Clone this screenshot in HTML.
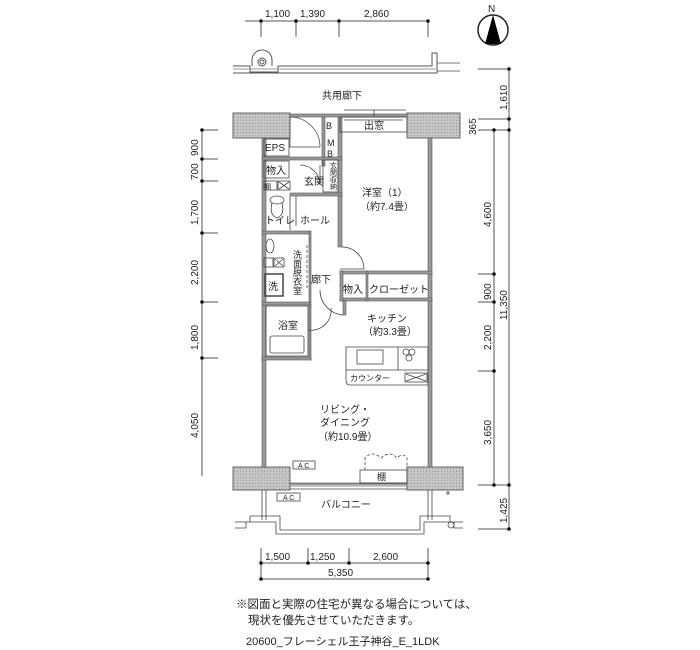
<!DOCTYPE html>
<html><head><meta charset="utf-8"><style>
body{margin:0;background:#fff;width:700px;height:650px;overflow:hidden}
svg{display:block}
text{font-family:"Liberation Sans","Noto Sans CJK JP",sans-serif;fill:#222}
</style></head><body>
<svg width="700" height="650" viewBox="0 0 700 650" xmlns="http://www.w3.org/2000/svg">
<defs>
<pattern id="h" width="3" height="3" patternUnits="userSpaceOnUse"><rect width="3" height="3" fill="#c4c4c4"/><rect width="1" height="1" fill="#9a9a9a"/></pattern>
</defs>
<g stroke="#555" stroke-width="1" fill="none">
<line x1="245" y1="21" x2="428" y2="21"/>
<line x1="261" y1="21" x2="261" y2="37"/><line x1="296" y1="21" x2="296" y2="37"/><line x1="339" y1="21" x2="339" y2="37"/><line x1="428" y1="21" x2="428" y2="37"/>
<path d="M233 66 H250 V72 H278 V66 H432 V53 H437 V73 H233"/>
<path d="M233 69 H436" stroke="#999"/>
<path d="M437 63 H460 M437 71 H460" stroke="#777"/>
<path d="M252 66 V60 A10 10 0 0 1 272 60 V66"/>
<circle cx="262" cy="62" r="4"/><circle cx="262" cy="62" r="2"/>
<line x1="509" y1="69" x2="509" y2="529"/>
<line x1="494" y1="130" x2="494" y2="485"/>
<line x1="478" y1="69" x2="509" y2="69"/><line x1="478" y1="119" x2="509" y2="119"/><line x1="478" y1="130" x2="509" y2="130"/>
<line x1="478" y1="274" x2="494" y2="274"/><line x1="478" y1="302" x2="494" y2="302"/><line x1="478" y1="371" x2="494" y2="371"/>
<line x1="478" y1="485" x2="509" y2="485"/><line x1="478" y1="529" x2="509" y2="529"/>
<line x1="202" y1="130" x2="202" y2="476"/>
<line x1="202" y1="130" x2="218" y2="130"/><line x1="202" y1="159" x2="218" y2="159"/><line x1="202" y1="181" x2="218" y2="181"/><line x1="202" y1="233" x2="218" y2="233"/><line x1="202" y1="302" x2="218" y2="302"/><line x1="202" y1="358" x2="218" y2="358"/>
<line x1="261" y1="563" x2="428" y2="563"/><line x1="261" y1="579" x2="428" y2="579"/>
<line x1="261" y1="548" x2="261" y2="579"/><line x1="308" y1="548" x2="308" y2="563"/><line x1="349" y1="548" x2="349" y2="563"/><line x1="428" y1="548" x2="428" y2="579"/>
</g>
<g fill="#111">
<circle cx="261" cy="21" r="1.8"/><circle cx="296" cy="21" r="1.8"/><circle cx="339" cy="21" r="1.8"/><circle cx="428" cy="21" r="1.8"/>
<circle cx="509" cy="69" r="1.8"/><circle cx="509" cy="119" r="1.8"/><circle cx="509" cy="130" r="1.8"/><circle cx="494" cy="130" r="1.8"/><circle cx="494" cy="274" r="1.8"/><circle cx="494" cy="302" r="1.8"/><circle cx="494" cy="371" r="1.8"/><circle cx="494" cy="485" r="1.8"/><circle cx="509" cy="485" r="1.8"/><circle cx="509" cy="529" r="1.8"/>
<circle cx="202" cy="130" r="1.8"/><circle cx="202" cy="159" r="1.8"/><circle cx="202" cy="181" r="1.8"/><circle cx="202" cy="233" r="1.8"/><circle cx="202" cy="302" r="1.8"/><circle cx="202" cy="358" r="1.8"/>
<circle cx="261" cy="563" r="1.8"/><circle cx="308" cy="563" r="1.8"/><circle cx="349" cy="563" r="1.8"/><circle cx="428" cy="563" r="1.8"/><circle cx="261" cy="579" r="1.8"/><circle cx="428" cy="579" r="1.8"/>
</g>
<circle cx="493" cy="30" r="15" fill="none" stroke="#222" stroke-width="1.5"/>
<path d="M493 15 L485 44 H501 Z" fill="#000"/>
<text x="488" y="12" font-size="10">N</text>
<g fill="url(#h)" stroke="#666">
<rect x="233" y="113" width="57" height="25"/><rect x="407" y="113" width="53" height="25"/>
<rect x="233" y="467" width="57" height="23"/><rect x="407" y="467" width="56" height="23"/>
</g>
<g fill="#999" stroke="#555" stroke-width="0.6">
<rect x="262" y="138" width="4" height="329"/><rect x="428" y="138" width="4" height="329"/>
<rect x="322" y="116" width="3" height="50"/><rect x="338" y="116" width="4" height="131"/>
<rect x="262" y="157" width="80" height="3"/>
<rect x="290" y="114" width="117" height="3"/>
<rect x="290" y="193" width="52" height="3"/>
<rect x="262" y="231" width="48" height="3"/><rect x="309" y="231" width="2" height="75"/>
<rect x="262" y="302" width="48" height="3"/><rect x="309" y="305" width="2" height="55"/>
<rect x="262" y="357" width="49" height="3"/>
<rect x="340" y="271" width="92" height="3"/><rect x="340" y="298" width="92" height="3"/>
<rect x="340" y="271" width="3" height="30"/><rect x="366" y="271" width="2" height="30"/>
<rect x="343" y="301" width="3" height="14"/>
<rect x="290" y="483" width="117" height="3" fill="#ddd"/>
</g>
<g fill="none" stroke="#444" stroke-width="0.8">
<rect x="340" y="117" width="67" height="15"/>
<line x1="344" y1="120" x2="403" y2="120"/>
<rect x="264" y="139" width="25" height="17"/>
<rect x="264" y="161" width="25" height="17"/>
<rect x="323" y="160" width="15" height="32"/>
<rect x="264" y="181" width="13" height="9"/><rect x="278" y="181" width="12" height="9"/>
<path d="M279 182 L289 189 M289 182 L279 189"/>
<ellipse cx="277" cy="200" rx="7" ry="4"/><path d="M272 203 Q269 215 277 218 Q285 215 282 203"/>
<ellipse cx="270" cy="246" rx="4" ry="7"/>
<rect x="264" y="258" width="9" height="9"/><rect x="274" y="258" width="10" height="9"/><path d="M275 259 L283 266 M283 259 L275 266"/>
<rect x="265" y="274" width="18" height="22" stroke-width="1.5"/>
<path d="M307 245 V290" stroke-dasharray="3 2"/>
<rect x="266" y="306" width="42" height="50"/>
<rect x="270" y="336" width="34" height="17" rx="2"/>
<path d="M290 117 A30 30 0 0 1 320 147 M290 117 V147 H320" stroke-width="0.7"/>
<path d="M300 165 A20 20 0 0 1 320 185 V165"/>
<path d="M290 196 V230 M296 196 V226"/>
<path d="M342 247 A22 22 0 0 1 364 269 H340"/>
<path d="M308 330 A20 20 0 0 0 331 308"/>
<path d="M343 315 A25 25 0 0 1 320 290"/>
<path d="M346 347 H428 V385 H350 Q346 385 346 380 Z"/>
<rect x="357" y="350" width="26" height="14"/>
<path d="M398 347 V370 H428 M346 370 H398"/>
<circle cx="406" cy="352" r="3"/><circle cx="412" cy="352" r="3"/><circle cx="409" cy="358" r="3"/>
<rect x="405" y="373" width="22" height="9"/><path d="M406 374 L426 381 M426 374 L406 381"/>
<path d="M365 470 V458 Q372 450 381 458 Q390 450 397 458 Q403 452 407 458 V470" stroke-dasharray="3 2"/>
<rect x="360" y="470" width="47" height="13"/>
<path d="M290 484 H407 M290 489 H407"/>
<rect x="293" y="461" width="22" height="8"/>
<rect x="277" y="493" width="23" height="8"/>
<path d="M262 490 V520 M266 490 V520 M428 490 V520 M432 490 V520"/>
<path d="M235 522 H250 V516 H280 V530 H420 V516 H450 V522 H463 M235 528 H246 V522 H276 V534 H424 V522 H454 V528 H463"/>
<circle cx="451" cy="525" r="3"/><circle cx="448" cy="493" r="1.2"/>
<path d="M344 110 H406 M374 110 V116" />
</g>
<g font-size="10">
<text x="265" y="17">1,100</text><text x="300" y="17">1,390</text><text x="364" y="17">2,860</text>
<text x="322" y="99">共用廊下</text>
<text x="364" y="129">出窓</text>
<text x="326" y="129" font-size="9">B</text><text x="327" y="146" font-size="9">M</text><text x="327" y="157" font-size="9">B</text>
<text x="265" y="151">EPS</text>
<text x="266" y="174">物入</text>
<text x="304" y="185">玄関</text>
<text x="264" y="189" font-size="7">棚</text>
<text x="362" y="196">洋室（1）</text><text x="360" y="210">（約7.4畳）</text>
<text x="265" y="224">トイレ</text><text x="300" y="224">ホール</text>
<text x="311" y="283">廊下</text>
<text x="268" y="290">洗</text>
<text x="343" y="293">物入</text><text x="369" y="293">クローゼット</text>
<text x="278" y="329">浴室</text>
<text x="367" y="322">キッチン</text><text x="363" y="335">（約3.3畳）</text>
<text x="350" y="381" font-size="8">カウンター</text>
<text x="320" y="413">リビング・</text><text x="320" y="426">ダイニング</text><text x="318" y="440">（約10.9畳）</text>
<text x="377" y="480" font-size="9">棚</text>
<text x="298" y="468" font-size="7">A C</text><text x="283" y="500" font-size="7">A C</text>
<text x="321" y="508">バルコニー</text>
<text x="265" y="560">1,500</text><text x="310" y="560">1,250</text><text x="373" y="560">2,600</text>
<text x="328" y="576">5,350</text>
<text x="236" y="608" font-size="11.5">※図面と実際の住宅が異なる場合については、</text>
<text x="248" y="624" font-size="11.5">現状を優先させていただきます。</text>
<text x="246" y="645" font-size="11">20600_フレーシェル王子神谷_E_1LDK</text>
</g>
<g font-size="9">
<text transform="translate(297,250)" writing-mode="tb">洗面脱衣室</text>
<text transform="translate(333,162)" writing-mode="tb" font-size="7">玄関収納</text>
</g>
<g font-size="10">
<text transform="translate(198,156) rotate(-90)">900</text>
<text transform="translate(198,180) rotate(-90)">700</text>
<text transform="translate(198,225) rotate(-90)">1,700</text>
<text transform="translate(198,285) rotate(-90)">2,200</text>
<text transform="translate(198,350) rotate(-90)">1,800</text>
<text transform="translate(198,438) rotate(-90)">4,050</text>
<text transform="translate(507,110) rotate(-90)">1,610</text>
<text transform="translate(476,135) rotate(-90)">365</text>
<text transform="translate(491,227) rotate(-90)">4,600</text>
<text transform="translate(491,300) rotate(-90)">900</text>
<text transform="translate(507,320) rotate(-90)">11,350</text>
<text transform="translate(491,350) rotate(-90)">2,200</text>
<text transform="translate(491,445) rotate(-90)">3,650</text>
<text transform="translate(507,523) rotate(-90)">1,425</text>
</g>
</svg>
</body></html>
